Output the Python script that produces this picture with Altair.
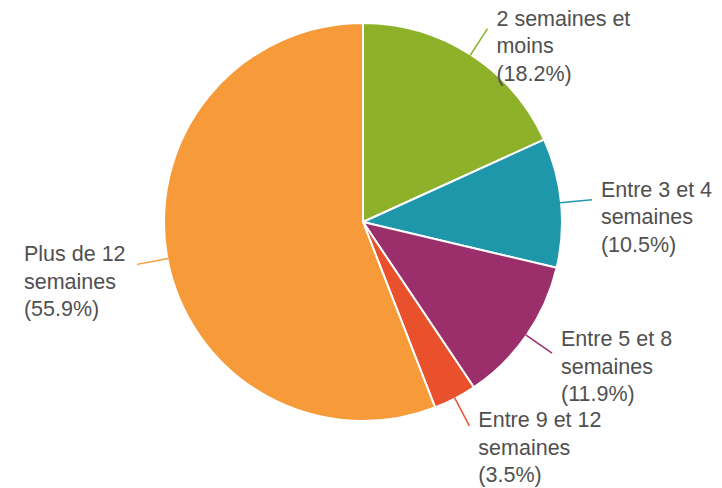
import math
import altair as alt
import pandas as pd

# ---- data ----
categories = ["2 semaines et moins", "Entre 3 et 4 semaines", "Entre 5 et 8 semaines",
              "Entre 9 et 12 semaines", "Plus de 12 semaines"]
label_lines = [["2 semaines et", "moins"], ["Entre 3 et 4", "semaines"], ["Entre 5 et 8", "semaines"],
               ["Entre 9 et 12", "semaines"], ["Plus de 12", "semaines"]]
values = [18.2, 10.5, 11.9, 3.5, 55.9]
colors = ["#8DB22A", "#1F97AB", "#9B2F6B", "#E9512D", "#F79A3A"]

# ---- layout constants ----
W, H = 706, 480
CX, CY = 355, 214
R = 199
R_IN, R_OUT = 198, 230
LINE_H = 27.5
FONT = 21.5
MIN_GAP = 81  # minimum vertical distance between label blocks on the same side

total = sum(values)
rows = []
cum = 0.0
for i, (c, lines, v, col) in enumerate(zip(categories, label_lines, values, colors)):
    mid = (cum + v / 2) / total * 2 * math.pi
    cum += v
    s, co = math.sin(mid), math.cos(mid)
    ex, ey = CX + R_OUT * s, CY - R_OUT * co
    right = s >= 0
    rows.append({
        "order": i, "category": c, "value": v, "color": col,
        "label": "\n".join(lines + [f"({v:.1f}%)"]),
        "x1": CX + R_IN * s, "y1": CY - R_IN * co, "x2": ex, "y2": ey,
        "side": "right" if right else "left",
        "lx": ex + 9 if right else ex - 113,
        "ly": ey - 3,
    })

# simple overlap resolution: push neighbouring label blocks apart symmetrically
for side in ("right", "left"):
    grp = sorted([r for r in rows if r["side"] == side], key=lambda r: r["ly"])
    for _ in range(10):
        moved = False
        for a, b in zip(grp, grp[1:]):
            gap = b["ly"] - a["ly"]
            if gap < MIN_GAP:
                d = (MIN_GAP - gap) / 2
                a["ly"] -= d
                b["ly"] += d
                moved = True
        if not moved:
            break

df = pd.DataFrame(rows)
base = alt.Chart(df)

pie = base.mark_arc(outerRadius=R, stroke="white", strokeWidth=2).encode(
    theta=alt.Theta("value:Q", stack=True),
    order=alt.Order("order:Q"),
    color=alt.Color("color:N", scale=None),
    x=alt.value(CX), y=alt.value(CY),
)

leaders = base.mark_rule(strokeWidth=1.5).encode(
    x=alt.X("x1:Q", scale=None), y=alt.Y("y1:Q", scale=None),
    x2="x2:Q", y2="y2:Q",
    color=alt.Color("color:N", scale=None),
)

labels = base.mark_text(font="Liberation Sans", fontSize=FONT, color="#505050",
                        lineBreak="\n", lineHeight=LINE_H, baseline="alphabetic",
                        align="left").encode(
    x=alt.X("lx:Q", scale=None), y=alt.Y("ly:Q", scale=None), text="label:N")

chart = alt.layer(pie, leaders, labels).properties(
    width=W, height=H, padding=0, autosize=alt.AutoSizeParams(type="none")
).configure_view(stroke=None)

chart.save("out.html", embed_options={"renderer": "svg", "actions": False})
